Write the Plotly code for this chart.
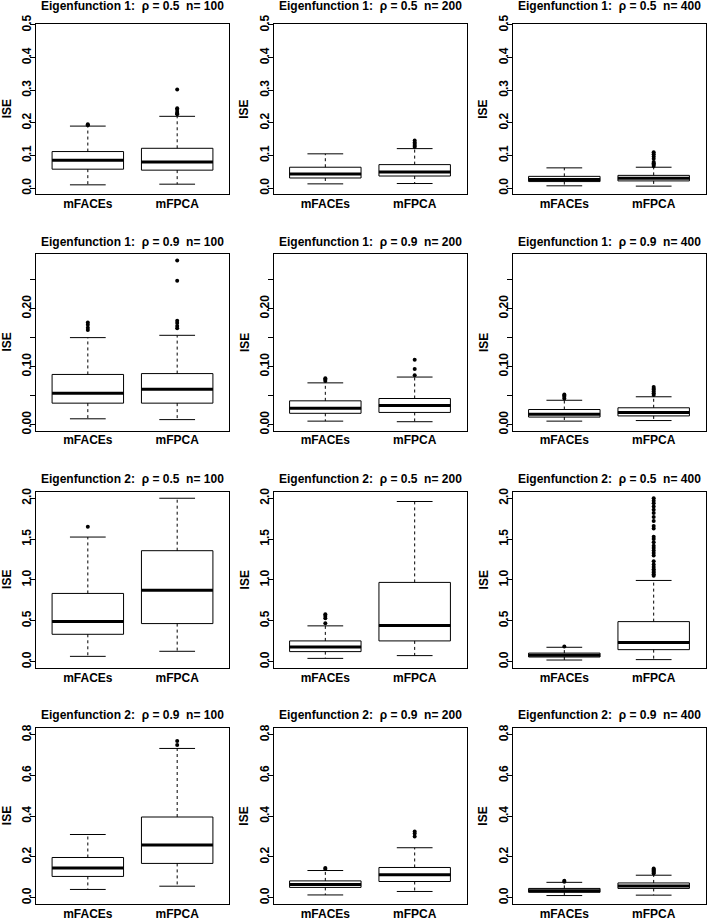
import plotly.graph_objects as go

W, H = 709, 920

methods = ["mFACEs", "mFPCA"]
method_pos = [1, 2]
y_label = "ISE"

panel_titles = [
    "Eigenfunction 1:  ρ = 0.5  n= 100", "Eigenfunction 1:  ρ = 0.5  n= 200", "Eigenfunction 1:  ρ = 0.5  n= 400",
    "Eigenfunction 1:  ρ = 0.9  n= 100", "Eigenfunction 1:  ρ = 0.9  n= 200", "Eigenfunction 1:  ρ = 0.9  n= 400",
    "Eigenfunction 2:  ρ = 0.5  n= 100", "Eigenfunction 2:  ρ = 0.5  n= 200", "Eigenfunction 2:  ρ = 0.5  n= 400",
    "Eigenfunction 2:  ρ = 0.9  n= 100", "Eigenfunction 2:  ρ = 0.9  n= 200", "Eigenfunction 2:  ρ = 0.9  n= 400",
]

# ---- mFACEs box statistics (12 panels, row-major) ----
mfaces_low = [0.010, 0.013, 0.007, 0.010, 0.006, 0.006, 0.065, 0.040, 0.020, 0.040, 0.013, 0.010]
mfaces_q1 = [0.058, 0.031, 0.020, 0.037, 0.0195, 0.013, 0.335, 0.123, 0.057, 0.104, 0.050, 0.026]
mfaces_med = [0.085, 0.043, 0.026, 0.054, 0.028, 0.018, 0.490, 0.180, 0.078, 0.145, 0.064, 0.033]
mfaces_q3 = [0.112, 0.064, 0.036, 0.0865, 0.041, 0.026, 0.835, 0.254, 0.105, 0.197, 0.082, 0.045]
mfaces_up = [0.190, 0.105, 0.062, 0.150, 0.072, 0.042, 1.525, 0.438, 0.176, 0.310, 0.133, 0.075]
mfaces_out = [
    [0.193, 0.196], [], [],
    [0.163, 0.167, 0.172, 0.176], [0.075, 0.078, 0.080], [0.045, 0.048, 0.050, 0.052],
    [1.65], [0.47, 0.53, 0.56, 0.58], [0.185],
    [], [0.140, 0.145], [0.078, 0.083],
]

# ---- mFPCA box statistics ----
mfpca_low = [0.012, 0.014, 0.006, 0.0086, 0.005, 0.007, 0.127, 0.074, 0.025, 0.056, 0.030, 0.012]
mfpca_q1 = [0.055, 0.037, 0.022, 0.037, 0.021, 0.015, 0.466, 0.254, 0.147, 0.168, 0.079, 0.045]
mfpca_med = [0.080, 0.049, 0.030, 0.061, 0.033, 0.021, 0.875, 0.442, 0.233, 0.258, 0.112, 0.057]
mfpca_q3 = [0.122, 0.072, 0.039, 0.088, 0.045, 0.029, 1.358, 0.970, 0.490, 0.396, 0.148, 0.072]
mfpca_up = [0.220, 0.121, 0.064, 0.154, 0.082, 0.048, 2.000, 1.960, 0.994, 0.733, 0.245, 0.110]
mfpca_out = [
    [0.226, 0.229, 0.233, 0.240, 0.245, 0.302],
    [0.126, 0.130, 0.135, 0.140, 0.146],
    [0.068, 0.072, 0.076, 0.080, 0.090, 0.097, 0.104, 0.110],
    [0.166, 0.170, 0.175, 0.179, 0.248, 0.283],
    [0.085, 0.096, 0.112],
    [0.051, 0.054, 0.057, 0.060, 0.062, 0.065],
    [], [],
    [1.05, 1.07, 1.09, 1.11, 1.13, 1.16, 1.19, 1.23, 1.30, 1.33, 1.36, 1.39, 1.42, 1.46,
     1.50, 1.53, 1.63, 1.66, 1.72, 1.77, 1.82, 1.86, 1.90, 1.94, 1.97, 2.00],
    [0.750, 0.770],
    [0.300, 0.315, 0.325],
    [0.118, 0.122, 0.128, 0.133, 0.138, 0.143],
]

# ---- y axes per row ----
row_yrange = [[-0.019, 0.502], [-0.0105, 0.2935], [-0.08, 2.08], [-0.032, 0.832]]
row_tickvals = [
    [0.0, 0.1, 0.2, 0.3, 0.4, 0.5],
    [0.0, 0.05, 0.10, 0.15, 0.20, 0.25],
    [0.0, 0.5, 1.0, 1.5, 2.0],
    [0.0, 0.2, 0.4, 0.6, 0.8],
]
row_ticktext = [
    ["0.0", "0.1", "0.2", "0.3", "0.4", "0.5"],
    ["0.00", "", "0.10", "", "0.20", ""],
    ["0.0", "0.5", "1.0", "1.5", "2.0"],
    ["0.0", "0.2", "0.4", "0.6", "0.8"],
]

# ---- layout geometry (pixels) ----
col_left = [36, 273.5, 512.5]
col_w = 193
row_top = [24.3, 254.4, 491.7, 728.3]
row_h = [170, 176.3, 176.5, 175.8]
title_shift = [9, 3.5, 4, 4]

FONT = "Liberation Sans, Arial, Helvetica, sans-serif"
TICKFONT = dict(family=FONT, size=12, color="black", weight="bold")

stats = {
    "mFACEs": (mfaces_low, mfaces_q1, mfaces_med, mfaces_q3, mfaces_up, mfaces_out),
    "mFPCA": (mfpca_low, mfpca_q1, mfpca_med, mfpca_q3, mfpca_up, mfpca_out),
}

fig = go.Figure()
annotations = []
layout_axes = {}

for i in range(12):
    r, c = divmod(i, 3)
    k = i + 1
    xa = "x" if k == 1 else f"x{k}"
    ya = "y" if k == 1 else f"y{k}"
    for m, p in zip(methods, method_pos):
        low, q1, med, q3, up, out = stats[m]
        fig.add_trace(go.Box(
            x=[p], q1=[q1[i]], median=[med[i]], q3=[q3[i]],
            lowerfence=[q1[i]], upperfence=[q3[i]],
            width=0.8, whiskerwidth=0, fillcolor="white",
            line=dict(color="black", width=1), boxpoints=False,
            xaxis=xa, yaxis=ya, showlegend=False, hoverinfo="skip", name=m))
        # whiskers (dashed)
        fig.add_trace(go.Scatter(
            x=[p, p, None, p, p], y=[q3[i], up[i], None, q1[i], low[i]],
            mode="lines", line=dict(color="black", width=1, dash="3px,3px"),
            xaxis=xa, yaxis=ya, showlegend=False, hoverinfo="skip"))
        # staples
        fig.add_trace(go.Scatter(
            x=[p - 0.2, p + 0.2, None, p - 0.2, p + 0.2],
            y=[up[i], up[i], None, low[i], low[i]],
            mode="lines", line=dict(color="black", width=1),
            xaxis=xa, yaxis=ya, showlegend=False, hoverinfo="skip"))
        # thick median
        fig.add_trace(go.Scatter(
            x=[p - 0.4, p + 0.4], y=[med[i], med[i]],
            mode="lines", line=dict(color="black", width=3),
            xaxis=xa, yaxis=ya, showlegend=False, hoverinfo="skip"))
        # outliers
        if out[i]:
            fig.add_trace(go.Scatter(
                x=[p] * len(out[i]), y=out[i], mode="markers",
                marker=dict(color="black", size=4, symbol="circle"),
                xaxis=xa, yaxis=ya, showlegend=False, hoverinfo="skip"))

    x0 = col_left[c] / W
    x1 = (col_left[c] + col_w) / W
    y1 = 1 - row_top[r] / H
    y0 = 1 - (row_top[r] + row_h[r]) / H

    layout_axes["xaxis" if k == 1 else f"xaxis{k}"] = dict(
        domain=[x0, x1], anchor=ya, range=[0.42, 2.58], automargin=False,
        tickvals=method_pos, ticktext=methods, ticks="",
        ticklabelstandoff=-2,
        showline=True, mirror=True, linecolor="black", linewidth=1,
        showgrid=False, zeroline=False, tickfont=TICKFONT)
    layout_axes["yaxis" if k == 1 else f"yaxis{k}"] = dict(
        domain=[y0, y1], anchor=xa, range=row_yrange[r], automargin=False,
        tickvals=row_tickvals[r], ticktext=row_ticktext[r], tickangle=-90,
        ticks="outside", ticklen=5, tickcolor="black", tickwidth=1,
        ticklabelstandoff=-6,
        showline=True, mirror=True, linecolor="black", linewidth=1,
        showgrid=False, zeroline=False, tickfont=TICKFONT)
    # panel title
    annotations.append(dict(
        text=f"<b>{panel_titles[i]}</b>", xref="paper", yref="paper",
        x=(x0 + x1) / 2, y=y1, xanchor="center", yanchor="bottom",
        yshift=title_shift[r],
        showarrow=False, font=dict(family=FONT, size=12, color="black")))
    # y-axis label
    annotations.append(dict(
        text=f"<b>{y_label}</b>", xref="paper", yref="paper",
        x=x0, y=(y0 + y1) / 2, xanchor="center", yanchor="middle", xshift=-29,
        textangle=-90, showarrow=False,
        font=dict(family=FONT, size=12, color="black")))

fig.update_layout(
    width=W, height=H, margin=dict(l=0, r=0, t=0, b=0, autoexpand=False),
    paper_bgcolor="white", plot_bgcolor="white",
    annotations=annotations, **layout_axes)

fig.write_html("out.html", config={"displayModeBar": False},
               post_script="document.body.style.margin='0';")
